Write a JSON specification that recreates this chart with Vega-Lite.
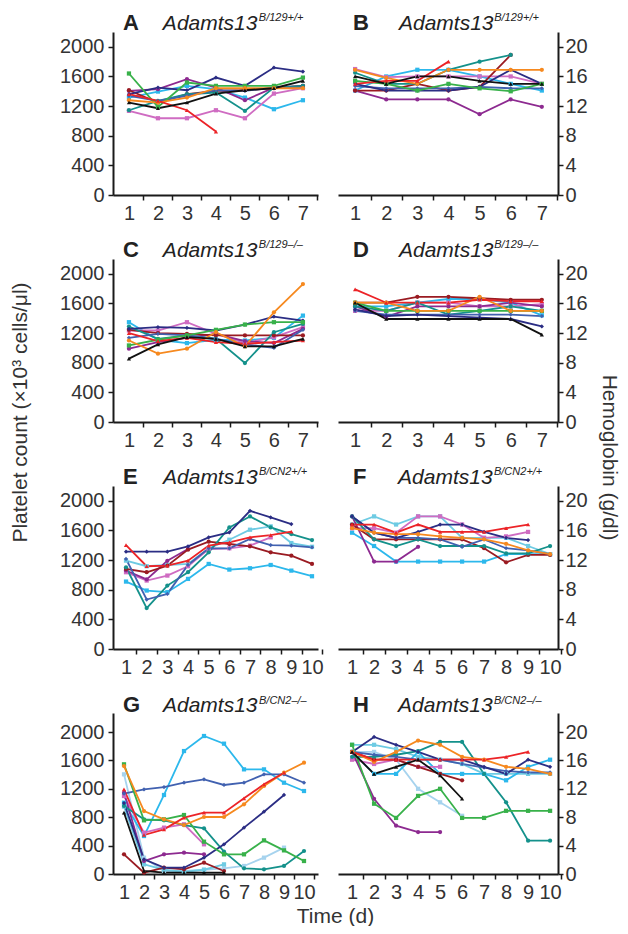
{
"$schema": "https://vega.github.io/schema/vega-lite/v6.json",
"padding": {"left": 9, "top": 11, "right": 4, "bottom": 0},
"bounds": "flush",
"columns": 2,
"spacing": {"row": 64, "column": 20},
"config": {
  "view": {"stroke": null},
  "axis": {"grid": false, "domainColor": "#1a1a1a", "domainWidth": 2, "tickColor": "#1a1a1a", "tickWidth": 1.5, "tickSize": 5,
    "labelFont": "Liberation Sans", "labelFontSize": 20, "labelColor": "#333", "labelFlush": false, "labelOverlap": false, "labelBound": false,
    "titleFont": "Liberation Sans", "titleFontSize": 21, "titleFontWeight": "normal", "titleColor": "#333"},
  "axisLeft": {"labelPadding": 4},
  "axisRight": {"labelPadding": 2},
  "axisBottom": {"labelPadding": 3}
},
"datasets": {
"A": [
{"m":"cyan","d":1,"v":1315},{"m":"cyan","d":2,"v":1396},{"m":"cyan","d":3,"v":1473},{"m":"cyan","d":4,"v":1428},{"m":"cyan","d":5,"v":1315},{"m":"cyan","d":6,"v":1158},{"m":"cyan","d":7,"v":1279},
{"m":"pink","d":1,"v":1135},{"m":"pink","d":2,"v":1036},{"m":"pink","d":3,"v":1036},{"m":"pink","d":4,"v":1144},{"m":"pink","d":5,"v":1036},{"m":"pink","d":6,"v":1369},{"m":"pink","d":7,"v":1441},
{"m":"purple","d":1,"v":1405},{"m":"purple","d":2,"v":1428},{"m":"purple","d":3,"v":1563},{"m":"purple","d":4,"v":1450},{"m":"purple","d":5,"v":1279},{"m":"purple","d":6,"v":1450},{"m":"purple","d":7,"v":1473},
{"m":"maroon","d":1,"v":1414},{"m":"maroon","d":2,"v":1248},{"m":"maroon","d":3,"v":1360},{"m":"maroon","d":4,"v":1405},{"m":"maroon","d":5,"v":1414},{"m":"maroon","d":6,"v":1441},{"m":"maroon","d":7,"v":1473},
{"m":"teal","d":1,"v":1144},{"m":"teal","d":2,"v":1270},{"m":"teal","d":3,"v":1360},{"m":"teal","d":4,"v":1383},{"m":"teal","d":5,"v":1135},{"m":"teal","d":6,"v":1450},{"m":"teal","d":7,"v":1473},
{"m":"blue","d":1,"v":1338},{"m":"blue","d":2,"v":1270},{"m":"blue","d":3,"v":1338},{"m":"blue","d":4,"v":1414},{"m":"blue","d":5,"v":1405},{"m":"blue","d":6,"v":1450},{"m":"blue","d":7,"v":1450},
{"m":"navy","d":1,"v":1360},{"m":"navy","d":2,"v":1450},{"m":"navy","d":3,"v":1414},{"m":"navy","d":4,"v":1585},{"m":"navy","d":5,"v":1473},{"m":"navy","d":6,"v":1720},{"m":"navy","d":7,"v":1666},
{"m":"green","d":1,"v":1640},{"m":"green","d":2,"v":1189},{"m":"green","d":3,"v":1518},{"m":"green","d":4,"v":1473},{"m":"green","d":5,"v":1473},{"m":"green","d":6,"v":1473},{"m":"green","d":7,"v":1585},
{"m":"orange","d":1,"v":1279},{"m":"orange","d":2,"v":1248},{"m":"orange","d":3,"v":1315},{"m":"orange","d":4,"v":1441},{"m":"orange","d":5,"v":1441},{"m":"orange","d":6,"v":1441},{"m":"orange","d":7,"v":1441},
{"m":"red","d":1,"v":1360},{"m":"red","d":2,"v":1270},{"m":"red","d":3,"v":1144},{"m":"red","d":4,"v":856},
{"m":"black","d":1,"v":1248},{"m":"black","d":2,"v":1171},{"m":"black","d":3,"v":1248},{"m":"black","d":4,"v":1369},{"m":"black","d":5,"v":1414},{"m":"black","d":6,"v":1441},{"m":"black","d":7,"v":1540}
],
"B": [
{"m":"cyan","d":1,"v":14.1},{"m":"cyan","d":2,"v":16.0},{"m":"cyan","d":3,"v":16.9},{"m":"cyan","d":4,"v":16.9},{"m":"cyan","d":5,"v":16.0},{"m":"cyan","d":6,"v":15.0},{"m":"cyan","d":7,"v":14.1},
{"m":"pink","d":1,"v":17.0},{"m":"pink","d":2,"v":15.9},{"m":"pink","d":3,"v":16.0},{"m":"pink","d":4,"v":16.0},{"m":"pink","d":5,"v":16.0},{"m":"pink","d":6,"v":16.0},{"m":"pink","d":7,"v":15.0},
{"m":"purple","d":1,"v":14.1},{"m":"purple","d":2,"v":12.9},{"m":"purple","d":3,"v":12.9},{"m":"purple","d":4,"v":12.9},{"m":"purple","d":5,"v":10.9},{"m":"purple","d":6,"v":12.9},{"m":"purple","d":7,"v":11.9},
{"m":"maroon","d":1,"v":14.1},{"m":"maroon","d":2,"v":14.1},{"m":"maroon","d":3,"v":15.0},{"m":"maroon","d":4,"v":14.1},{"m":"maroon","d":5,"v":14.6},{"m":"maroon","d":6,"v":18.9},
{"m":"teal","d":1,"v":16.5},{"m":"teal","d":2,"v":15.0},{"m":"teal","d":3,"v":15.0},{"m":"teal","d":4,"v":16.9},{"m":"teal","d":5,"v":18.0},{"m":"teal","d":6,"v":18.9},
{"m":"blue","d":1,"v":14.7},{"m":"blue","d":2,"v":14.4},{"m":"blue","d":3,"v":14.4},{"m":"blue","d":4,"v":14.4},{"m":"blue","d":5,"v":14.6},{"m":"blue","d":6,"v":14.4},{"m":"blue","d":7,"v":14.4},
{"m":"navy","d":1,"v":15.0},{"m":"navy","d":2,"v":14.1},{"m":"navy","d":3,"v":14.1},{"m":"navy","d":4,"v":14.1},{"m":"navy","d":5,"v":14.6},{"m":"navy","d":6,"v":16.9},{"m":"navy","d":7,"v":15.0},
{"m":"green","d":1,"v":15.4},{"m":"green","d":2,"v":15.0},{"m":"green","d":3,"v":14.1},{"m":"green","d":4,"v":15.0},{"m":"green","d":5,"v":14.4},{"m":"green","d":6,"v":14.0},{"m":"green","d":7,"v":15.0},
{"m":"orange","d":1,"v":16.9},{"m":"orange","d":2,"v":15.8},{"m":"orange","d":3,"v":15.0},{"m":"orange","d":4,"v":16.9},{"m":"orange","d":5,"v":16.9},{"m":"orange","d":6,"v":16.9},{"m":"orange","d":7,"v":16.9},
{"m":"red","d":1,"v":15.0},{"m":"red","d":2,"v":15.4},{"m":"red","d":3,"v":15.4},{"m":"red","d":4,"v":18.0},
{"m":"black","d":1,"v":16.0},{"m":"black","d":2,"v":15.0},{"m":"black","d":3,"v":16.0},{"m":"black","d":4,"v":16.0},{"m":"black","d":5,"v":15.4},{"m":"black","d":6,"v":15.0},{"m":"black","d":7,"v":15.0}
],
"C": [
{"m":"cyan","d":1,"v":1347},{"m":"cyan","d":2,"v":1110},{"m":"cyan","d":3,"v":1065},{"m":"cyan","d":4,"v":1110},{"m":"cyan","d":5,"v":1100},{"m":"cyan","d":6,"v":1136},{"m":"cyan","d":7,"v":1436},
{"m":"pink","d":1,"v":1235},{"m":"pink","d":2,"v":1235},{"m":"pink","d":3,"v":1347},{"m":"pink","d":4,"v":1190},{"m":"pink","d":5,"v":1065},{"m":"pink","d":6,"v":1145},{"m":"pink","d":7,"v":1280},
{"m":"purple","d":1,"v":989},{"m":"purple","d":2,"v":1078},{"m":"purple","d":3,"v":1136},{"m":"purple","d":4,"v":1190},{"m":"purple","d":5,"v":1092},{"m":"purple","d":6,"v":1065},{"m":"purple","d":7,"v":1257},
{"m":"maroon","d":1,"v":1244},{"m":"maroon","d":2,"v":1199},{"m":"maroon","d":3,"v":1190},{"m":"maroon","d":4,"v":1168},{"m":"maroon","d":5,"v":1168},{"m":"maroon","d":6,"v":1168},{"m":"maroon","d":7,"v":1168},
{"m":"teal","d":1,"v":1288},{"m":"teal","d":2,"v":1123},{"m":"teal","d":3,"v":1168},{"m":"teal","d":4,"v":1123},{"m":"teal","d":5,"v":796},{"m":"teal","d":6,"v":1212},{"m":"teal","d":7,"v":1324},
{"m":"blue","d":1,"v":1136},{"m":"blue","d":2,"v":1190},{"m":"blue","d":3,"v":1168},{"m":"blue","d":4,"v":1123},{"m":"blue","d":5,"v":1047},{"m":"blue","d":6,"v":1002},{"m":"blue","d":7,"v":1244},
{"m":"navy","d":1,"v":1257},{"m":"navy","d":2,"v":1280},{"m":"navy","d":3,"v":1271},{"m":"navy","d":4,"v":1235},{"m":"navy","d":5,"v":1315},{"m":"navy","d":6,"v":1423},{"m":"navy","d":7,"v":1369},
{"m":"green","d":1,"v":1033},{"m":"green","d":2,"v":1110},{"m":"green","d":3,"v":1168},{"m":"green","d":4,"v":1244},{"m":"green","d":5,"v":1315},{"m":"green","d":6,"v":1347},{"m":"green","d":7,"v":1347},
{"m":"orange","d":1,"v":1100},{"m":"orange","d":2,"v":922},{"m":"orange","d":3,"v":989},{"m":"orange","d":4,"v":1212},{"m":"orange","d":5,"v":1020},{"m":"orange","d":6,"v":1481},{"m":"orange","d":7,"v":1861},
{"m":"red","d":1,"v":1199},{"m":"red","d":2,"v":1092},{"m":"red","d":3,"v":1136},{"m":"red","d":4,"v":1078},{"m":"red","d":5,"v":1056},{"m":"red","d":6,"v":1078},{"m":"red","d":7,"v":1100},
{"m":"black","d":1,"v":855},{"m":"black","d":2,"v":1047},{"m":"black","d":3,"v":1145},{"m":"black","d":4,"v":1123},{"m":"black","d":5,"v":1020},{"m":"black","d":6,"v":1020},{"m":"black","d":7,"v":1123}
],
"D": [
{"m":"cyan","d":1,"v":15.6},{"m":"cyan","d":2,"v":15.6},{"m":"cyan","d":3,"v":16.1},{"m":"cyan","d":4,"v":16.6},{"m":"cyan","d":5,"v":16.6},{"m":"cyan","d":6,"v":16.1},{"m":"cyan","d":7,"v":14.4},
{"m":"pink","d":1,"v":15.0},{"m":"pink","d":2,"v":15.0},{"m":"pink","d":3,"v":16.1},{"m":"pink","d":4,"v":16.1},{"m":"pink","d":5,"v":15.6},{"m":"pink","d":6,"v":15.6},{"m":"pink","d":7,"v":15.9},
{"m":"purple","d":1,"v":15.6},{"m":"purple","d":2,"v":14.2},{"m":"purple","d":3,"v":15.6},{"m":"purple","d":4,"v":15.6},{"m":"purple","d":5,"v":15.6},{"m":"purple","d":6,"v":16.1},{"m":"purple","d":7,"v":15.6},
{"m":"maroon","d":1,"v":16.1},{"m":"maroon","d":2,"v":16.1},{"m":"maroon","d":3,"v":16.9},{"m":"maroon","d":4,"v":16.9},{"m":"maroon","d":5,"v":16.7},{"m":"maroon","d":6,"v":16.5},{"m":"maroon","d":7,"v":16.5},
{"m":"teal","d":1,"v":15.6},{"m":"teal","d":2,"v":15.0},{"m":"teal","d":3,"v":16.1},{"m":"teal","d":4,"v":14.5},{"m":"teal","d":5,"v":15.0},{"m":"teal","d":6,"v":15.6},{"m":"teal","d":7,"v":15.0},
{"m":"blue","d":1,"v":15.0},{"m":"blue","d":2,"v":14.5},{"m":"blue","d":3,"v":14.5},{"m":"blue","d":4,"v":14.5},{"m":"blue","d":5,"v":14.5},{"m":"blue","d":6,"v":14.5},{"m":"blue","d":7,"v":14.3},
{"m":"navy","d":1,"v":15.2},{"m":"navy","d":2,"v":14.3},{"m":"navy","d":3,"v":14.5},{"m":"navy","d":4,"v":14.3},{"m":"navy","d":5,"v":14.1},{"m":"navy","d":6,"v":13.9},{"m":"navy","d":7,"v":12.9},
{"m":"green","d":1,"v":16.1},{"m":"green","d":2,"v":15.0},{"m":"green","d":3,"v":15.0},{"m":"green","d":4,"v":15.0},{"m":"green","d":5,"v":15.0},{"m":"green","d":6,"v":15.0},{"m":"green","d":7,"v":15.0},
{"m":"orange","d":1,"v":16.1},{"m":"orange","d":2,"v":16.1},{"m":"orange","d":3,"v":15.0},{"m":"orange","d":4,"v":15.0},{"m":"orange","d":5,"v":16.9},{"m":"orange","d":6,"v":15.0},{"m":"orange","d":7,"v":15.0},
{"m":"red","d":1,"v":17.9},{"m":"red","d":2,"v":16.1},{"m":"red","d":3,"v":16.1},{"m":"red","d":4,"v":16.1},{"m":"red","d":5,"v":16.5},{"m":"red","d":6,"v":16.3},{"m":"red","d":7,"v":16.3},
{"m":"black","d":1,"v":16.1},{"m":"black","d":2,"v":13.9},{"m":"black","d":3,"v":13.9},{"m":"black","d":4,"v":13.9},{"m":"black","d":5,"v":13.9},{"m":"black","d":6,"v":13.9},{"m":"black","d":7,"v":11.8}
],
"E": [
{"m":"cyan","d":1,"v":910},{"m":"cyan","d":2,"v":789},{"m":"cyan","d":3,"v":767},{"m":"cyan","d":4,"v":946},{"m":"cyan","d":5,"v":1148},{"m":"cyan","d":6,"v":1072},{"m":"cyan","d":7,"v":1090},{"m":"cyan","d":8,"v":1134},{"m":"cyan","d":9,"v":1058},{"m":"cyan","d":10,"v":982},
{"m":"lcyan","d":1,"v":1193},{"m":"lcyan","d":2,"v":1117},{"m":"lcyan","d":3,"v":1134},{"m":"lcyan","d":4,"v":1148},{"m":"lcyan","d":5,"v":1359},{"m":"lcyan","d":6,"v":1475},{"m":"lcyan","d":7,"v":1610},{"m":"lcyan","d":8,"v":1655},{"m":"lcyan","d":9,"v":1430},{"m":"lcyan","d":10,"v":1380},
{"m":"pink","d":1,"v":1036},{"m":"pink","d":2,"v":924},{"m":"pink","d":3,"v":991},{"m":"pink","d":4,"v":1117},{"m":"pink","d":5,"v":1350},{"m":"pink","d":6,"v":1359},{"m":"pink","d":7,"v":1395},{"m":"pink","d":8,"v":1507},
{"m":"purple","d":1,"v":1060},{"m":"purple","d":2,"v":940},{"m":"purple","d":3,"v":1190},{"m":"purple","d":4,"v":1350},
{"m":"maroon","d":1,"v":1081},{"m":"maroon","d":2,"v":1036},{"m":"maroon","d":3,"v":1125},{"m":"maroon","d":4,"v":1341},{"m":"maroon","d":5,"v":1448},{"m":"maroon","d":6,"v":1417},{"m":"maroon","d":7,"v":1386},{"m":"maroon","d":8,"v":1305},{"m":"maroon","d":9,"v":1260},{"m":"maroon","d":10,"v":1148},
{"m":"teal","d":1,"v":1103},{"m":"teal","d":2,"v":552},{"m":"teal","d":3,"v":856},{"m":"teal","d":4,"v":1036},{"m":"teal","d":5,"v":1305},{"m":"teal","d":6,"v":1641},{"m":"teal","d":7,"v":1789},{"m":"teal","d":8,"v":1641},{"m":"teal","d":9,"v":1551},{"m":"teal","d":10,"v":1471},
{"m":"blue","d":1,"v":1215},{"m":"blue","d":2,"v":668},{"m":"blue","d":3,"v":744},{"m":"blue","d":4,"v":1134},{"m":"blue","d":5,"v":1359},{"m":"blue","d":6,"v":1359},{"m":"blue","d":7,"v":1484},{"m":"blue","d":8,"v":1403},{"m":"blue","d":9,"v":1395},{"m":"blue","d":10,"v":1372},
{"m":"navy","d":1,"v":1314},{"m":"navy","d":2,"v":1314},{"m":"navy","d":3,"v":1314},{"m":"navy","d":4,"v":1386},{"m":"navy","d":5,"v":1507},{"m":"navy","d":6,"v":1574},{"m":"navy","d":7,"v":1865},{"m":"navy","d":8,"v":1776},{"m":"navy","d":9,"v":1686},
{"m":"red","d":1,"v":1403},{"m":"red","d":2,"v":1117},{"m":"red","d":3,"v":1125},{"m":"red","d":4,"v":1193},{"m":"red","d":5,"v":1395},{"m":"red","d":6,"v":1439},{"m":"red","d":7,"v":1507},{"m":"red","d":8,"v":1538},{"m":"red","d":9,"v":1583}
],
"F": [
{"m":"cyan","d":1,"v":15.7},{"m":"cyan","d":2,"v":13.9},{"m":"cyan","d":3,"v":11.8},{"m":"cyan","d":4,"v":11.8},{"m":"cyan","d":5,"v":11.8},{"m":"cyan","d":6,"v":11.8},{"m":"cyan","d":7,"v":11.8},{"m":"cyan","d":8,"v":12.8},{"m":"cyan","d":9,"v":12.8},{"m":"cyan","d":10,"v":12.8},
{"m":"lcyan","d":1,"v":16.8},{"m":"lcyan","d":2,"v":17.9},{"m":"lcyan","d":3,"v":16.8},{"m":"lcyan","d":4,"v":17.9},{"m":"lcyan","d":5,"v":17.9},{"m":"lcyan","d":6,"v":15.0},{"m":"lcyan","d":7,"v":15.0},{"m":"lcyan","d":8,"v":15.0},{"m":"lcyan","d":9,"v":13.9},{"m":"lcyan","d":10,"v":12.8},
{"m":"pink","d":1,"v":16.3},{"m":"pink","d":2,"v":16.3},{"m":"pink","d":3,"v":15.7},{"m":"pink","d":4,"v":17.9},{"m":"pink","d":5,"v":17.9},{"m":"pink","d":6,"v":16.8},{"m":"pink","d":7,"v":15.0},{"m":"pink","d":8,"v":15.2},{"m":"pink","d":9,"v":15.8},
{"m":"purple","d":1,"v":17.9},{"m":"purple","d":2,"v":11.8},{"m":"purple","d":3,"v":11.8},{"m":"purple","d":4,"v":13.8},
{"m":"maroon","d":1,"v":16.8},{"m":"maroon","d":2,"v":14.8},{"m":"maroon","d":3,"v":14.8},{"m":"maroon","d":4,"v":14.8},{"m":"maroon","d":5,"v":14.8},{"m":"maroon","d":6,"v":14.8},{"m":"maroon","d":7,"v":13.6},{"m":"maroon","d":8,"v":11.7},{"m":"maroon","d":9,"v":12.7},{"m":"maroon","d":10,"v":12.7},
{"m":"teal","d":1,"v":17.9},{"m":"teal","d":2,"v":14.8},{"m":"teal","d":3,"v":13.9},{"m":"teal","d":4,"v":14.8},{"m":"teal","d":5,"v":13.9},{"m":"teal","d":6,"v":13.9},{"m":"teal","d":7,"v":13.9},{"m":"teal","d":8,"v":12.9},{"m":"teal","d":9,"v":12.9},{"m":"teal","d":10,"v":13.9},
{"m":"blue","d":1,"v":17.9},{"m":"blue","d":2,"v":15.7},{"m":"blue","d":3,"v":15.0},{"m":"blue","d":4,"v":15.0},{"m":"blue","d":5,"v":14.8},{"m":"blue","d":6,"v":13.8},{"m":"blue","d":7,"v":14.8},{"m":"blue","d":8,"v":13.6},{"m":"blue","d":9,"v":13.3},{"m":"blue","d":10,"v":12.8},
{"m":"navy","d":1,"v":17.9},{"m":"navy","d":2,"v":15.7},{"m":"navy","d":3,"v":15.0},{"m":"navy","d":4,"v":15.8},{"m":"navy","d":5,"v":16.8},{"m":"navy","d":6,"v":16.8},{"m":"navy","d":7,"v":15.8},{"m":"navy","d":8,"v":15.0},{"m":"navy","d":9,"v":14.7},
{"m":"orange","d":1,"v":16.3},{"m":"orange","d":2,"v":15.7},{"m":"orange","d":3,"v":15.5},{"m":"orange","d":4,"v":15.5},{"m":"orange","d":5,"v":15.2},{"m":"orange","d":6,"v":15.0},{"m":"orange","d":7,"v":14.8},{"m":"orange","d":8,"v":14.2},{"m":"orange","d":9,"v":13.3},{"m":"orange","d":10,"v":12.8},
{"m":"red","d":1,"v":16.8},{"m":"red","d":2,"v":16.8},{"m":"red","d":3,"v":15.7},{"m":"red","d":4,"v":16.8},{"m":"red","d":5,"v":15.8},{"m":"red","d":6,"v":15.8},{"m":"red","d":7,"v":15.8},{"m":"red","d":8,"v":16.3},{"m":"red","d":9,"v":16.8}
],
"G": [
{"m":"pale","d":1,"v":1404},{"m":"pale","d":2,"v":230},{"m":"pale","d":3,"v":42},{"m":"pale","d":4,"v":42},{"m":"pale","d":5,"v":60},{"m":"pale","d":6,"v":80},{"m":"pale","d":7,"v":113},{"m":"pale","d":8,"v":230},{"m":"pale","d":9,"v":371},
{"m":"lcyan","d":1,"v":950},{"m":"lcyan","d":2,"v":136},{"m":"lcyan","d":3,"v":60},{"m":"lcyan","d":4,"v":30},{"m":"lcyan","d":5,"v":60},{"m":"lcyan","d":6,"v":136},
{"m":"cyan","d":1,"v":1005},{"m":"cyan","d":2,"v":535},{"m":"cyan","d":3,"v":1113},{"m":"cyan","d":4,"v":1732},{"m":"cyan","d":5,"v":1944},{"m":"cyan","d":6,"v":1836},{"m":"cyan","d":7,"v":1474},{"m":"cyan","d":8,"v":1474},{"m":"cyan","d":9,"v":1286},{"m":"cyan","d":10,"v":1169},
{"m":"pink","d":1,"v":1099},{"m":"pink","d":2,"v":582},{"m":"pink","d":3,"v":653},{"m":"pink","d":4,"v":700},{"m":"pink","d":5,"v":418},
{"m":"purple","d":1,"v":1146},{"m":"purple","d":2,"v":183},{"m":"purple","d":3,"v":277},{"m":"purple","d":4,"v":300},{"m":"purple","d":5,"v":277},
{"m":"maroon","d":1,"v":277},{"m":"maroon","d":2,"v":19},{"m":"maroon","d":3,"v":89},{"m":"maroon","d":4,"v":66},{"m":"maroon","d":5,"v":160},{"m":"maroon","d":6,"v":42},
{"m":"teal","d":1,"v":958},{"m":"teal","d":2,"v":770},{"m":"teal","d":3,"v":756},{"m":"teal","d":4,"v":690},{"m":"teal","d":5,"v":643},{"m":"teal","d":6,"v":315},{"m":"teal","d":7,"v":80},{"m":"teal","d":8,"v":66},{"m":"teal","d":9,"v":113},{"m":"teal","d":10,"v":324},
{"m":"blue","d":1,"v":1131},{"m":"blue","d":2,"v":1192},{"m":"blue","d":3,"v":1225},{"m":"blue","d":4,"v":1286},{"m":"blue","d":5,"v":1333},{"m":"blue","d":6,"v":1254},{"m":"blue","d":7,"v":1286},{"m":"blue","d":8,"v":1404},{"m":"blue","d":9,"v":1404},{"m":"blue","d":10,"v":1286},
{"m":"navy","d":1,"v":1000},{"m":"navy","d":2,"v":207},{"m":"navy","d":3,"v":89},{"m":"navy","d":4,"v":89},{"m":"navy","d":5,"v":230},{"m":"navy","d":6,"v":418},{"m":"navy","d":7,"v":653},{"m":"navy","d":8,"v":878},{"m":"navy","d":9,"v":1113},
{"m":"green","d":1,"v":1545},{"m":"green","d":2,"v":756},{"m":"green","d":3,"v":770},{"m":"green","d":4,"v":831},{"m":"green","d":5,"v":455},{"m":"green","d":6,"v":277},{"m":"green","d":7,"v":277},{"m":"green","d":8,"v":474},{"m":"green","d":9,"v":333},{"m":"green","d":10,"v":183},
{"m":"orange","d":1,"v":1521},{"m":"orange","d":2,"v":887},{"m":"orange","d":3,"v":770},{"m":"orange","d":4,"v":690},{"m":"orange","d":5,"v":803},{"m":"orange","d":6,"v":803},{"m":"orange","d":7,"v":981},{"m":"orange","d":8,"v":1240},{"m":"orange","d":9,"v":1427},{"m":"orange","d":10,"v":1568},
{"m":"red","d":1,"v":1192},{"m":"red","d":2,"v":549},{"m":"red","d":3,"v":629},{"m":"red","d":4,"v":793},{"m":"red","d":5,"v":864},{"m":"red","d":6,"v":864},{"m":"red","d":7,"v":1066},{"m":"red","d":8,"v":1263},{"m":"red","d":9,"v":1427},
{"m":"black","d":1,"v":864},{"m":"black","d":2,"v":42},{"m":"black","d":3,"v":19},{"m":"black","d":4,"v":19},{"m":"black","d":5,"v":19},{"m":"black","d":6,"v":19}
],
"H": [
{"m":"pale","d":1,"v":17.2},{"m":"pale","d":2,"v":17.2},{"m":"pale","d":3,"v":16.1},{"m":"pale","d":4,"v":12.0},{"m":"pale","d":5,"v":10.1},{"m":"pale","d":6,"v":8.2},
{"m":"lcyan","d":1,"v":18.2},{"m":"lcyan","d":2,"v":18.2},{"m":"lcyan","d":3,"v":17.6},{"m":"lcyan","d":4,"v":16.5},{"m":"lcyan","d":5,"v":16.1},{"m":"lcyan","d":6,"v":15.5},{"m":"lcyan","d":7,"v":14.1},{"m":"lcyan","d":8,"v":14.1},{"m":"lcyan","d":9,"v":14.1},{"m":"lcyan","d":10,"v":14.1},
{"m":"cyan","d":1,"v":17.2},{"m":"cyan","d":2,"v":14.1},{"m":"cyan","d":3,"v":14.1},{"m":"cyan","d":4,"v":17.2},{"m":"cyan","d":5,"v":14.1},{"m":"cyan","d":6,"v":14.1},{"m":"cyan","d":7,"v":14.1},{"m":"cyan","d":8,"v":13.2},{"m":"cyan","d":9,"v":15.1},{"m":"cyan","d":10,"v":16.1},
{"m":"pink","d":1,"v":16.1},{"m":"pink","d":2,"v":15.5},{"m":"pink","d":3,"v":16.1},{"m":"pink","d":4,"v":15.1},{"m":"pink","d":5,"v":15.1},
{"m":"purple","d":1,"v":17.2},{"m":"purple","d":2,"v":10.6},{"m":"purple","d":3,"v":6.8},{"m":"purple","d":4,"v":5.9},{"m":"purple","d":5,"v":5.9},
{"m":"maroon","d":1,"v":17.2},{"m":"maroon","d":2,"v":16.1},{"m":"maroon","d":3,"v":16.1},{"m":"maroon","d":4,"v":15.1},{"m":"maroon","d":5,"v":14.1},{"m":"maroon","d":6,"v":13.2},
{"m":"teal","d":1,"v":16.5},{"m":"teal","d":2,"v":16.5},{"m":"teal","d":3,"v":16.8},{"m":"teal","d":4,"v":17.3},{"m":"teal","d":5,"v":18.6},{"m":"teal","d":6,"v":18.6},{"m":"teal","d":7,"v":14.1},{"m":"teal","d":8,"v":10.1},{"m":"teal","d":9,"v":4.7},{"m":"teal","d":10,"v":4.7},
{"m":"blue","d":1,"v":17.2},{"m":"blue","d":2,"v":16.8},{"m":"blue","d":3,"v":16.5},{"m":"blue","d":4,"v":16.1},{"m":"blue","d":5,"v":16.1},{"m":"blue","d":6,"v":15.5},{"m":"blue","d":7,"v":15.0},{"m":"blue","d":8,"v":14.5},{"m":"blue","d":9,"v":14.3},{"m":"blue","d":10,"v":14.3},
{"m":"navy","d":1,"v":17.2},{"m":"navy","d":2,"v":19.3},{"m":"navy","d":3,"v":18.2},{"m":"navy","d":4,"v":17.2},{"m":"navy","d":5,"v":16.1},{"m":"navy","d":6,"v":16.1},{"m":"navy","d":7,"v":15.1},{"m":"navy","d":8,"v":14.1},{"m":"navy","d":9,"v":16.1},{"m":"navy","d":10,"v":15.1},
{"m":"green","d":1,"v":18.2},{"m":"green","d":2,"v":9.9},{"m":"green","d":3,"v":7.9},{"m":"green","d":4,"v":11.0},{"m":"green","d":5,"v":12.0},{"m":"green","d":6,"v":7.9},{"m":"green","d":7,"v":7.9},{"m":"green","d":8,"v":8.9},{"m":"green","d":9,"v":8.9},{"m":"green","d":10,"v":8.9},
{"m":"orange","d":1,"v":17.2},{"m":"orange","d":2,"v":15.8},{"m":"orange","d":3,"v":17.2},{"m":"orange","d":4,"v":18.8},{"m":"orange","d":5,"v":18.2},{"m":"orange","d":6,"v":16.5},{"m":"orange","d":7,"v":16.1},{"m":"orange","d":8,"v":15.1},{"m":"orange","d":9,"v":14.8},{"m":"orange","d":10,"v":14.1},
{"m":"red","d":1,"v":17.2},{"m":"red","d":2,"v":16.1},{"m":"red","d":3,"v":16.1},{"m":"red","d":4,"v":16.1},{"m":"red","d":5,"v":16.1},{"m":"red","d":6,"v":16.1},{"m":"red","d":7,"v":16.1},{"m":"red","d":8,"v":16.5},{"m":"red","d":9,"v":17.2},
{"m":"black","d":1,"v":17.2},{"m":"black","d":2,"v":14.1},{"m":"black","d":3,"v":15.1},{"m":"black","d":4,"v":16.1},{"m":"black","d":5,"v":13.9},{"m":"black","d":6,"v":10.6}
]
},
"concat": [
{"width": 205, "height": 163, "layer": [
 {"data": {"name": "A"}, "mark": {"type": "line", "strokeWidth": 1.8}, "encoding": {
  "x": {"field": "d", "type": "quantitative", "scale": {"domain": [0.45, 7.52], "nice": false, "zero": false}, "axis": {"values": [1,2,3,4,5,6,7], "tickCount": 30, "format": "d", "title": null, "labelOverlap": false, "tickOffset": 14.5, "labelOffset": -14.5}},
  "y": {"field": "v", "type": "quantitative", "scale": {"domain": [0, 2200], "nice": false}, "axis": {"values": [0,400,800,1200,1600,2000], "tickCount": 30, "format": "d", "title": null, "labelOverlap": false}},
  "color": {"field": "m", "type": "nominal", "legend": null, "scale": {"domain": ["pale","lcyan","cyan","pink","purple","maroon","teal","blue","navy","green","orange","red","black"], "range": ["#a6d3ee","#6ecbe3","#2cb8ec","#cf6cc2","#8d2a90","#9a1b22","#14918b","#4161b0","#2b2d84","#38b14a","#f6891f","#ec2327","#111111"]}}}},
 {"data": {"name": "A"}, "mark": {"type": "point", "filled": true, "size": 18, "opacity": 1}, "encoding": {
  "x": {"field": "d", "type": "quantitative"}, "y": {"field": "v", "type": "quantitative"},
  "color": {"field": "m", "type": "nominal", "legend": null, "scale": {"domain": ["pale","lcyan","cyan","pink","purple","maroon","teal","blue","navy","green","orange","red","black"], "range": ["#a6d3ee","#6ecbe3","#2cb8ec","#cf6cc2","#8d2a90","#9a1b22","#14918b","#4161b0","#2b2d84","#38b14a","#f6891f","#ec2327","#111111"]}},
  "shape": {"field": "m", "type": "nominal", "legend": null, "scale": {"domain": ["pale","lcyan","cyan","pink","purple","maroon","teal","blue","navy","green","orange","red","black"], "range": ["square","square","square","square","circle","circle","circle","diamond","diamond","square","circle","triangle-up","triangle-up"]}}}},
 {"data": {"values": [{}]}, "mark": {"type": "text", "text": "A", "font": "Liberation Sans", "fontSize": 22, "fontWeight": "bold", "align": "left", "baseline": "alphabetic", "fill": "#222"}, "encoding": {"x": {"datum": 0.795}, "y": {"datum": 2227}}},
 {"data": {"values": [{}]}, "mark": {"type": "text", "text": "Adamts13", "font": "Liberation Sans", "fontSize": 21, "fontStyle": "italic", "align": "left", "baseline": "alphabetic", "fill": "#222"}, "encoding": {"x": {"datum": 2.17}, "y": {"datum": 2227}}},
 {"data": {"values": [{}]}, "mark": {"type": "text", "text": "B/129+/+", "font": "Liberation Sans", "fontSize": 11, "fontStyle": "italic", "align": "left", "baseline": "alphabetic", "fill": "#222"}, "encoding": {"x": {"datum": 5.48}, "y": {"datum": 2348}}}
]},
{"width": 220, "height": 163, "layer": [
 {"data": {"name": "B"}, "mark": {"type": "line", "strokeWidth": 1.8}, "encoding": {
  "x": {"field": "d", "type": "quantitative", "scale": {"domain": [0.45, 7.52], "nice": false, "zero": false}, "axis": {"values": [1,2,3,4,5,6,7], "tickCount": 30, "format": "d", "title": null, "labelOverlap": false, "tickOffset": 15.55, "labelOffset": -15.55}},
  "y": {"field": "v", "type": "quantitative", "scale": {"domain": [0, 22], "nice": false}, "axis": {"orient": "right", "values": [0,4,8,12,16,20], "tickCount": 30, "format": "d", "title": null, "labelOverlap": false}},
  "color": {"field": "m", "type": "nominal", "legend": null, "scale": {"domain": ["pale","lcyan","cyan","pink","purple","maroon","teal","blue","navy","green","orange","red","black"], "range": ["#a6d3ee","#6ecbe3","#2cb8ec","#cf6cc2","#8d2a90","#9a1b22","#14918b","#4161b0","#2b2d84","#38b14a","#f6891f","#ec2327","#111111"]}}}},
 {"data": {"name": "B"}, "mark": {"type": "point", "filled": true, "size": 18, "opacity": 1}, "encoding": {
  "x": {"field": "d", "type": "quantitative"}, "y": {"field": "v", "type": "quantitative"},
  "color": {"field": "m", "type": "nominal", "legend": null, "scale": {"domain": ["pale","lcyan","cyan","pink","purple","maroon","teal","blue","navy","green","orange","red","black"], "range": ["#a6d3ee","#6ecbe3","#2cb8ec","#cf6cc2","#8d2a90","#9a1b22","#14918b","#4161b0","#2b2d84","#38b14a","#f6891f","#ec2327","#111111"]}},
  "shape": {"field": "m", "type": "nominal", "legend": null, "scale": {"domain": ["pale","lcyan","cyan","pink","purple","maroon","teal","blue","navy","green","orange","red","black"], "range": ["square","square","square","square","circle","circle","circle","diamond","diamond","square","circle","triangle-up","triangle-up"]}}}},
 {"data": {"values": [{}]}, "mark": {"type": "text", "text": "B", "font": "Liberation Sans", "fontSize": 22, "fontWeight": "bold", "align": "left", "baseline": "alphabetic", "fill": "#222"}, "encoding": {"x": {"datum": 0.93}, "y": {"datum": 22.27}}},
 {"data": {"values": [{}]}, "mark": {"type": "text", "text": "Adamts13", "font": "Liberation Sans", "fontSize": 21, "fontStyle": "italic", "align": "left", "baseline": "alphabetic", "fill": "#222"}, "encoding": {"x": {"datum": 2.41}, "y": {"datum": 22.27}}},
 {"data": {"values": [{}]}, "mark": {"type": "text", "text": "B/129+/+", "font": "Liberation Sans", "fontSize": 11, "fontStyle": "italic", "align": "left", "baseline": "alphabetic", "fill": "#222"}, "encoding": {"x": {"datum": 5.47}, "y": {"datum": 23.48}}}
]},
{"width": 205, "height": 163, "layer": [
 {"data": {"name": "C"}, "mark": {"type": "line", "strokeWidth": 1.8}, "encoding": {
  "x": {"field": "d", "type": "quantitative", "scale": {"domain": [0.45, 7.52], "nice": false, "zero": false}, "axis": {"values": [1,2,3,4,5,6,7], "tickCount": 30, "format": "d", "title": null, "labelOverlap": false, "tickOffset": 14.5, "labelOffset": -14.5}},
  "y": {"field": "v", "type": "quantitative", "scale": {"domain": [0, 2200], "nice": false}, "axis": {"values": [0,400,800,1200,1600,2000], "tickCount": 30, "format": "d", "labelOverlap": false, "title": "Platelet count (×10³ cells/μl)", "titleX": -83, "titleY": 153, "titleAngle": 270, "titleAlign": "center", "titleBaseline": "bottom"}},
  "color": {"field": "m", "type": "nominal", "legend": null, "scale": {"domain": ["pale","lcyan","cyan","pink","purple","maroon","teal","blue","navy","green","orange","red","black"], "range": ["#a6d3ee","#6ecbe3","#2cb8ec","#cf6cc2","#8d2a90","#9a1b22","#14918b","#4161b0","#2b2d84","#38b14a","#f6891f","#ec2327","#111111"]}}}},
 {"data": {"name": "C"}, "mark": {"type": "point", "filled": true, "size": 18, "opacity": 1}, "encoding": {
  "x": {"field": "d", "type": "quantitative"}, "y": {"field": "v", "type": "quantitative"},
  "color": {"field": "m", "type": "nominal", "legend": null, "scale": {"domain": ["pale","lcyan","cyan","pink","purple","maroon","teal","blue","navy","green","orange","red","black"], "range": ["#a6d3ee","#6ecbe3","#2cb8ec","#cf6cc2","#8d2a90","#9a1b22","#14918b","#4161b0","#2b2d84","#38b14a","#f6891f","#ec2327","#111111"]}},
  "shape": {"field": "m", "type": "nominal", "legend": null, "scale": {"domain": ["pale","lcyan","cyan","pink","purple","maroon","teal","blue","navy","green","orange","red","black"], "range": ["square","square","square","square","circle","circle","circle","diamond","diamond","square","circle","triangle-up","triangle-up"]}}}},
 {"data": {"values": [{}]}, "mark": {"type": "text", "text": "C", "font": "Liberation Sans", "fontSize": 22, "fontWeight": "bold", "align": "left", "baseline": "alphabetic", "fill": "#222"}, "encoding": {"x": {"datum": 0.795}, "y": {"datum": 2227}}},
 {"data": {"values": [{}]}, "mark": {"type": "text", "text": "Adamts13", "font": "Liberation Sans", "fontSize": 21, "fontStyle": "italic", "align": "left", "baseline": "alphabetic", "fill": "#222"}, "encoding": {"x": {"datum": 2.17}, "y": {"datum": 2227}}},
 {"data": {"values": [{}]}, "mark": {"type": "text", "text": "B/129–/–", "font": "Liberation Sans", "fontSize": 11, "fontStyle": "italic", "align": "left", "baseline": "alphabetic", "fill": "#222"}, "encoding": {"x": {"datum": 5.48}, "y": {"datum": 2348}}}
]},
{"width": 220, "height": 163, "layer": [
 {"data": {"name": "D"}, "mark": {"type": "line", "strokeWidth": 1.8}, "encoding": {
  "x": {"field": "d", "type": "quantitative", "scale": {"domain": [0.45, 7.52], "nice": false, "zero": false}, "axis": {"values": [1,2,3,4,5,6,7], "tickCount": 30, "format": "d", "title": null, "labelOverlap": false, "tickOffset": 15.55, "labelOffset": -15.55}},
  "y": {"field": "v", "type": "quantitative", "scale": {"domain": [0, 22], "nice": false}, "axis": {"orient": "right", "values": [0,4,8,12,16,20], "tickCount": 30, "format": "d", "labelOverlap": false, "title": "Hemoglobin (g/dl)", "titleX": 40, "titleY": 198, "titleAngle": 90, "titleAlign": "center", "titleBaseline": "bottom"}},
  "color": {"field": "m", "type": "nominal", "legend": null, "scale": {"domain": ["pale","lcyan","cyan","pink","purple","maroon","teal","blue","navy","green","orange","red","black"], "range": ["#a6d3ee","#6ecbe3","#2cb8ec","#cf6cc2","#8d2a90","#9a1b22","#14918b","#4161b0","#2b2d84","#38b14a","#f6891f","#ec2327","#111111"]}}}},
 {"data": {"name": "D"}, "mark": {"type": "point", "filled": true, "size": 18, "opacity": 1}, "encoding": {
  "x": {"field": "d", "type": "quantitative"}, "y": {"field": "v", "type": "quantitative"},
  "color": {"field": "m", "type": "nominal", "legend": null, "scale": {"domain": ["pale","lcyan","cyan","pink","purple","maroon","teal","blue","navy","green","orange","red","black"], "range": ["#a6d3ee","#6ecbe3","#2cb8ec","#cf6cc2","#8d2a90","#9a1b22","#14918b","#4161b0","#2b2d84","#38b14a","#f6891f","#ec2327","#111111"]}},
  "shape": {"field": "m", "type": "nominal", "legend": null, "scale": {"domain": ["pale","lcyan","cyan","pink","purple","maroon","teal","blue","navy","green","orange","red","black"], "range": ["square","square","square","square","circle","circle","circle","diamond","diamond","square","circle","triangle-up","triangle-up"]}}}},
 {"data": {"values": [{}]}, "mark": {"type": "text", "text": "D", "font": "Liberation Sans", "fontSize": 22, "fontWeight": "bold", "align": "left", "baseline": "alphabetic", "fill": "#222"}, "encoding": {"x": {"datum": 0.93}, "y": {"datum": 22.27}}},
 {"data": {"values": [{}]}, "mark": {"type": "text", "text": "Adamts13", "font": "Liberation Sans", "fontSize": 21, "fontStyle": "italic", "align": "left", "baseline": "alphabetic", "fill": "#222"}, "encoding": {"x": {"datum": 2.41}, "y": {"datum": 22.27}}},
 {"data": {"values": [{}]}, "mark": {"type": "text", "text": "B/129–/–", "font": "Liberation Sans", "fontSize": 11, "fontStyle": "italic", "align": "left", "baseline": "alphabetic", "fill": "#222"}, "encoding": {"x": {"datum": 5.47}, "y": {"datum": 23.48}}}
]},
{"width": 205, "height": 163, "layer": [
 {"data": {"name": "E"}, "mark": {"type": "line", "strokeWidth": 1.8}, "encoding": {
  "x": {"field": "d", "type": "quantitative", "scale": {"domain": [0.37, 10.29], "nice": false, "zero": false}, "axis": {"values": [1,2,3,4,5,6,7,8,9,10], "tickCount": 30, "format": "d", "title": null, "labelOverlap": false, "tickOffset": 10.33, "labelOffset": -10.33}},
  "y": {"field": "v", "type": "quantitative", "scale": {"domain": [0, 2200], "nice": false}, "axis": {"values": [0,400,800,1200,1600,2000], "tickCount": 30, "format": "d", "title": null, "labelOverlap": false}},
  "color": {"field": "m", "type": "nominal", "legend": null, "scale": {"domain": ["pale","lcyan","cyan","pink","purple","maroon","teal","blue","navy","green","orange","red","black"], "range": ["#a6d3ee","#6ecbe3","#2cb8ec","#cf6cc2","#8d2a90","#9a1b22","#14918b","#4161b0","#2b2d84","#38b14a","#f6891f","#ec2327","#111111"]}}}},
 {"data": {"name": "E"}, "mark": {"type": "point", "filled": true, "size": 18, "opacity": 1}, "encoding": {
  "x": {"field": "d", "type": "quantitative"}, "y": {"field": "v", "type": "quantitative"},
  "color": {"field": "m", "type": "nominal", "legend": null, "scale": {"domain": ["pale","lcyan","cyan","pink","purple","maroon","teal","blue","navy","green","orange","red","black"], "range": ["#a6d3ee","#6ecbe3","#2cb8ec","#cf6cc2","#8d2a90","#9a1b22","#14918b","#4161b0","#2b2d84","#38b14a","#f6891f","#ec2327","#111111"]}},
  "shape": {"field": "m", "type": "nominal", "legend": null, "scale": {"domain": ["pale","lcyan","cyan","pink","purple","maroon","teal","blue","navy","green","orange","red","black"], "range": ["square","square","square","square","circle","circle","circle","diamond","diamond","square","circle","triangle-up","triangle-up"]}}}},
 {"data": {"values": [{}]}, "mark": {"type": "text", "text": "E", "font": "Liberation Sans", "fontSize": 22, "fontWeight": "bold", "align": "left", "baseline": "alphabetic", "fill": "#222"}, "encoding": {"x": {"datum": 0.85}, "y": {"datum": 2227}}},
 {"data": {"values": [{}]}, "mark": {"type": "text", "text": "Adamts13", "font": "Liberation Sans", "fontSize": 21, "fontStyle": "italic", "align": "left", "baseline": "alphabetic", "fill": "#222"}, "encoding": {"x": {"datum": 2.79}, "y": {"datum": 2227}}},
 {"data": {"values": [{}]}, "mark": {"type": "text", "text": "B/CN2+/+", "font": "Liberation Sans", "fontSize": 11, "fontStyle": "italic", "align": "left", "baseline": "alphabetic", "fill": "#222"}, "encoding": {"x": {"datum": 7.43}, "y": {"datum": 2348}}}
]},
{"width": 220, "height": 163, "layer": [
 {"data": {"name": "F"}, "mark": {"type": "line", "strokeWidth": 1.8}, "encoding": {
  "x": {"field": "d", "type": "quantitative", "scale": {"domain": [0.36, 10.36], "nice": false, "zero": false}, "axis": {"values": [1,2,3,4,5,6,7,8,9,10], "tickCount": 30, "format": "d", "title": null, "labelOverlap": false, "tickOffset": 11, "labelOffset": -11}},
  "y": {"field": "v", "type": "quantitative", "scale": {"domain": [0, 22], "nice": false}, "axis": {"orient": "right", "values": [0,4,8,12,16,20], "tickCount": 30, "format": "d", "title": null, "labelOverlap": false}},
  "color": {"field": "m", "type": "nominal", "legend": null, "scale": {"domain": ["pale","lcyan","cyan","pink","purple","maroon","teal","blue","navy","green","orange","red","black"], "range": ["#a6d3ee","#6ecbe3","#2cb8ec","#cf6cc2","#8d2a90","#9a1b22","#14918b","#4161b0","#2b2d84","#38b14a","#f6891f","#ec2327","#111111"]}}}},
 {"data": {"name": "F"}, "mark": {"type": "point", "filled": true, "size": 18, "opacity": 1}, "encoding": {
  "x": {"field": "d", "type": "quantitative"}, "y": {"field": "v", "type": "quantitative"},
  "color": {"field": "m", "type": "nominal", "legend": null, "scale": {"domain": ["pale","lcyan","cyan","pink","purple","maroon","teal","blue","navy","green","orange","red","black"], "range": ["#a6d3ee","#6ecbe3","#2cb8ec","#cf6cc2","#8d2a90","#9a1b22","#14918b","#4161b0","#2b2d84","#38b14a","#f6891f","#ec2327","#111111"]}},
  "shape": {"field": "m", "type": "nominal", "legend": null, "scale": {"domain": ["pale","lcyan","cyan","pink","purple","maroon","teal","blue","navy","green","orange","red","black"], "range": ["square","square","square","square","circle","circle","circle","diamond","diamond","square","circle","triangle-up","triangle-up"]}}}},
 {"data": {"values": [{}]}, "mark": {"type": "text", "text": "F", "font": "Liberation Sans", "fontSize": 22, "fontWeight": "bold", "align": "left", "baseline": "alphabetic", "fill": "#222"}, "encoding": {"x": {"datum": 1.04}, "y": {"datum": 22.27}}},
 {"data": {"values": [{}]}, "mark": {"type": "text", "text": "Adamts13", "font": "Liberation Sans", "fontSize": 21, "fontStyle": "italic", "align": "left", "baseline": "alphabetic", "fill": "#222"}, "encoding": {"x": {"datum": 3.09}, "y": {"datum": 22.27}}},
 {"data": {"values": [{}]}, "mark": {"type": "text", "text": "B/CN2+/+", "font": "Liberation Sans", "fontSize": 11, "fontStyle": "italic", "align": "left", "baseline": "alphabetic", "fill": "#222"}, "encoding": {"x": {"datum": 7.45}, "y": {"datum": 23.48}}}
]},
{"width": 205, "height": 161, "layer": [
 {"data": {"name": "G"}, "mark": {"type": "line", "strokeWidth": 1.8}, "encoding": {
  "x": {"field": "d", "type": "quantitative", "scale": {"domain": [0.45, 10.7], "nice": false, "zero": false}, "axis": {"values": [1,2,3,4,5,6,7,8,9,10], "tickCount": 30, "format": "d", "labelOverlap": false, "title": "Time (d)", "titleX": 222, "titleY": 48, "titleAngle": 0, "titleAlign": "center", "titleBaseline": "alphabetic", "tickOffset": 10, "labelOffset": -10}},
  "y": {"field": "v", "type": "quantitative", "scale": {"domain": [0, 2268], "nice": false}, "axis": {"values": [0,400,800,1200,1600,2000], "tickCount": 30, "format": "d", "title": null, "labelOverlap": false}},
  "color": {"field": "m", "type": "nominal", "legend": null, "scale": {"domain": ["pale","lcyan","cyan","pink","purple","maroon","teal","blue","navy","green","orange","red","black"], "range": ["#a6d3ee","#6ecbe3","#2cb8ec","#cf6cc2","#8d2a90","#9a1b22","#14918b","#4161b0","#2b2d84","#38b14a","#f6891f","#ec2327","#111111"]}}}},
 {"data": {"name": "G"}, "mark": {"type": "point", "filled": true, "size": 18, "opacity": 1}, "encoding": {
  "x": {"field": "d", "type": "quantitative"}, "y": {"field": "v", "type": "quantitative"},
  "color": {"field": "m", "type": "nominal", "legend": null, "scale": {"domain": ["pale","lcyan","cyan","pink","purple","maroon","teal","blue","navy","green","orange","red","black"], "range": ["#a6d3ee","#6ecbe3","#2cb8ec","#cf6cc2","#8d2a90","#9a1b22","#14918b","#4161b0","#2b2d84","#38b14a","#f6891f","#ec2327","#111111"]}},
  "shape": {"field": "m", "type": "nominal", "legend": null, "scale": {"domain": ["pale","lcyan","cyan","pink","purple","maroon","teal","blue","navy","green","orange","red","black"], "range": ["square","square","square","square","circle","circle","circle","diamond","diamond","square","circle","triangle-up","triangle-up"]}}}},
 {"data": {"values": [{}]}, "mark": {"type": "text", "text": "G", "font": "Liberation Sans", "fontSize": 22, "fontWeight": "bold", "align": "left", "baseline": "alphabetic", "fill": "#222"}, "encoding": {"x": {"datum": 0.95}, "y": {"datum": 2282}}},
 {"data": {"values": [{}]}, "mark": {"type": "text", "text": "Adamts13", "font": "Liberation Sans", "fontSize": 21, "fontStyle": "italic", "align": "left", "baseline": "alphabetic", "fill": "#222"}, "encoding": {"x": {"datum": 2.95}, "y": {"datum": 2282}}},
 {"data": {"values": [{}]}, "mark": {"type": "text", "text": "B/CN2–/–", "font": "Liberation Sans", "fontSize": 11, "fontStyle": "italic", "align": "left", "baseline": "alphabetic", "fill": "#222"}, "encoding": {"x": {"datum": 7.75}, "y": {"datum": 2395}}}
]},
{"width": 220, "height": 161, "layer": [
 {"data": {"name": "H"}, "mark": {"type": "line", "strokeWidth": 1.8}, "encoding": {
  "x": {"field": "d", "type": "quantitative", "scale": {"domain": [0.36, 10.36], "nice": false, "zero": false}, "axis": {"values": [1,2,3,4,5,6,7,8,9,10], "tickCount": 30, "format": "d", "title": null, "labelOverlap": false, "tickOffset": 11, "labelOffset": -11}},
  "y": {"field": "v", "type": "quantitative", "scale": {"domain": [0, 22.68], "nice": false}, "axis": {"orient": "right", "values": [0,4,8,12,16,20], "tickCount": 30, "format": "d", "title": null, "labelOverlap": false}},
  "color": {"field": "m", "type": "nominal", "legend": null, "scale": {"domain": ["pale","lcyan","cyan","pink","purple","maroon","teal","blue","navy","green","orange","red","black"], "range": ["#a6d3ee","#6ecbe3","#2cb8ec","#cf6cc2","#8d2a90","#9a1b22","#14918b","#4161b0","#2b2d84","#38b14a","#f6891f","#ec2327","#111111"]}}}},
 {"data": {"name": "H"}, "mark": {"type": "point", "filled": true, "size": 18, "opacity": 1}, "encoding": {
  "x": {"field": "d", "type": "quantitative"}, "y": {"field": "v", "type": "quantitative"},
  "color": {"field": "m", "type": "nominal", "legend": null, "scale": {"domain": ["pale","lcyan","cyan","pink","purple","maroon","teal","blue","navy","green","orange","red","black"], "range": ["#a6d3ee","#6ecbe3","#2cb8ec","#cf6cc2","#8d2a90","#9a1b22","#14918b","#4161b0","#2b2d84","#38b14a","#f6891f","#ec2327","#111111"]}},
  "shape": {"field": "m", "type": "nominal", "legend": null, "scale": {"domain": ["pale","lcyan","cyan","pink","purple","maroon","teal","blue","navy","green","orange","red","black"], "range": ["square","square","square","square","circle","circle","circle","diamond","diamond","square","circle","triangle-up","triangle-up"]}}}},
 {"data": {"values": [{}]}, "mark": {"type": "text", "text": "H", "font": "Liberation Sans", "fontSize": 22, "fontWeight": "bold", "align": "left", "baseline": "alphabetic", "fill": "#222"}, "encoding": {"x": {"datum": 1.04}, "y": {"datum": 22.82}}},
 {"data": {"values": [{}]}, "mark": {"type": "text", "text": "Adamts13", "font": "Liberation Sans", "fontSize": 21, "fontStyle": "italic", "align": "left", "baseline": "alphabetic", "fill": "#222"}, "encoding": {"x": {"datum": 3.09}, "y": {"datum": 22.82}}},
 {"data": {"values": [{}]}, "mark": {"type": "text", "text": "B/CN2–/–", "font": "Liberation Sans", "fontSize": 11, "fontStyle": "italic", "align": "left", "baseline": "alphabetic", "fill": "#222"}, "encoding": {"x": {"datum": 7.45}, "y": {"datum": 23.95}}}
]}
]
}
